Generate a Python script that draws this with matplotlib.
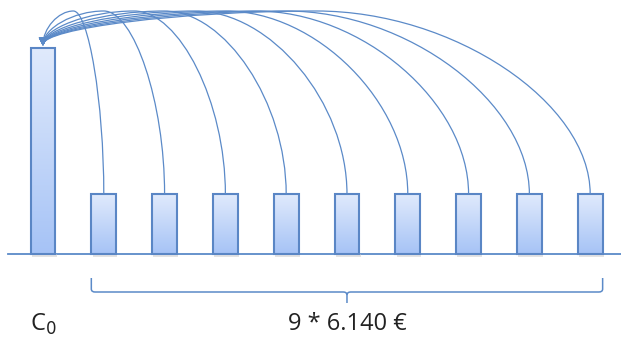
import numpy as np
import matplotlib
matplotlib.use('Agg')
import matplotlib.pyplot as plt
from matplotlib.patches import Rectangle, FancyArrowPatch
from matplotlib.path import Path
from matplotlib.patches import PathPatch

# cash flow diagram: present value C0 against 9 equal payments
periods = [0, 1, 2, 3, 4, 5, 6, 7, 8, 9]
heights = [206, 60, 60, 60, 60, 60, 60, 60, 60, 60]
c0_label = 'C$_0$'
payment_label = '9 * 6.140 €'

line_col = '#5B8AC8'
edge_col = '#5A86C5'
top_col = np.array([0xE0, 0xEA, 0xFC]) / 255
bot_col = np.array([0xA6, 0xC3, 0xF6]) / 255

fig = plt.figure(figsize=(6.21, 3.40), dpi=100)
ax = fig.add_axes([0, 0, 1, 1])
ax.set_xlim(-0.707, 9.507)
ax.set_ylim(-86, 254)
ax.axis('off')

bar_w = 0.41
apex = 243

# baseline
ax.plot([-0.58, 9.6], [0, 0], color=line_col, lw=1.3, zorder=1)

grad = np.linspace(0, 1, 100)[:, None, None]
grad_img = top_col * (1 - grad) + bot_col * grad

for p, h in zip(periods, heights):
    left = p - bar_w / 2
    # soft shadow under bar
    ax.add_patch(Rectangle((left + 0.02, -3), bar_w, 3, color='#c8c8c8', alpha=0.5, lw=0, zorder=1))
    im = ax.imshow(grad_img, extent=(left, left + bar_w, 0, h), aspect='auto', zorder=2)
    rect = Rectangle((left, 0), bar_w, h, fill=False, edgecolor=edge_col, lw=1.5, zorder=3)
    ax.add_patch(rect)
    im.set_clip_path(rect)

# curved connectors from each payment to the C0 bar
x0 = periods[0]
tip = heights[0] + 2
for p, h in zip(periods[1:], heights[1:]):
    xm = (p + x0) / 2
    verts = [(p, h), (p, (h + apex) / 2), (p - (p - x0) / 4, apex), (xm, apex),
             (x0 + (p - x0) / 4, apex), (x0, (tip + apex) / 2), (x0, tip)]
    codes = [Path.MOVETO] + [Path.CURVE4] * 6
    arr = FancyArrowPatch(path=Path(verts, codes), arrowstyle='-|>,head_length=5,head_width=2.5',
                          color=line_col, lw=0.9, zorder=4, shrinkA=0, shrinkB=0)
    ax.add_patch(arr)

# brace under the payments
bl = periods[1] - bar_w / 2
br = periods[-1] + bar_w / 2
bm = (periods[1] + periods[-1]) / 2
by, bup, bdn = -38, -24, -49
r = 0.06
brace = Path([(bl, bup), (bl, by + 3), (bl, by), (bl + r, by), (bm - r, by), (bm, by), (bm, by - 3), (bm, bdn)],
             [Path.MOVETO, Path.LINETO, Path.CURVE3, Path.CURVE3, Path.LINETO, Path.CURVE3, Path.CURVE3, Path.LINETO])
ax.add_patch(PathPatch(brace, fill=False, edgecolor=line_col, lw=1.1, zorder=2))
brace2 = Path([(br, bup), (br, by + 3), (br, by), (br - r, by), (bm + r, by), (bm, by), (bm, by - 3)],
              [Path.MOVETO, Path.LINETO, Path.CURVE3, Path.CURVE3, Path.LINETO, Path.CURVE3, Path.CURVE3])
ax.add_patch(PathPatch(brace2, fill=False, edgecolor=line_col, lw=1.1, zorder=2))

ax.text(x0, -70, c0_label, ha='center', va='center', fontsize=17, family='Open Sans', color='#222222')
ax.text(bm, -70, payment_label, ha='center', va='center', fontsize=17, family='Open Sans', color='#222222')

fig.savefig('out.png', dpi=100)
